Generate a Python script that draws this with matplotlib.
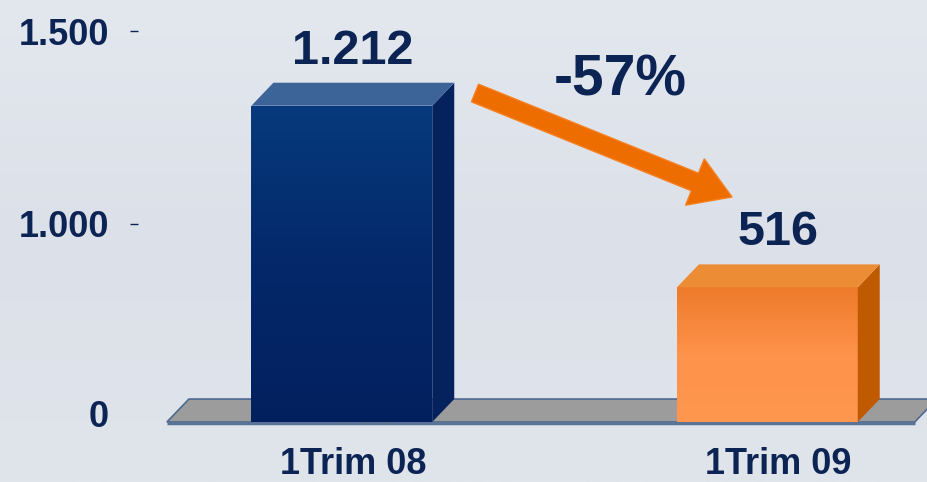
import numpy as np
import matplotlib
matplotlib.use("Agg")
import matplotlib.pyplot as plt
from matplotlib.patches import Polygon, FancyArrow
from matplotlib.colors import LinearSegmentedColormap

# datos
categorias = ["1Trim 08", "1Trim 09"]
valores = [1212, 516]
etiquetas = ["1.212", "516"]
variacion = "-57%"
ticks_y = [34, 759, 1498]
ticks_txt = ["0", "1.000", "1.500"]

plt.rcParams['font.family'] = ['Liberation Sans', 'DejaVu Sans']
plt.rcParams['font.weight'] = 'bold'

azul_txt = '#0b2454'

fig = plt.figure(figsize=(9.28, 4.82), dpi=100)

# fondo (coordenadas en pixeles)
fondo = fig.add_axes([0, 0, 1, 1])
fondo.set_xlim(0, 928)
fondo.set_ylim(482, 0)
fondo.axis('off')
grad = np.linspace(0, 1, 256).reshape(-1, 1)
cmap_fondo = LinearSegmentedColormap.from_list('fondo', ['#e3e7ee', '#dce1e9', '#e0e4eb'])
fondo.imshow(grad, cmap=cmap_fondo, extent=[0, 928, 482, 0], aspect='auto', zorder=0)

flecha = FancyArrow(475, 93, 257, 104, width=19, head_width=50, head_length=40,
                    length_includes_head=True, facecolor='#ee6d00', edgecolor='#f58020',
                    linewidth=1, zorder=3)
fondo.add_patch(flecha)
fondo.text(620, 81, variacion, ha='center', va='center', fontsize=41,
           fontweight='bold', color=azul_txt)
fondo.set_xlim(0, 928)
fondo.set_ylim(482, 0)

# grafico de barras
ax = fig.add_axes([138 / 928, 42 / 482, 1 - 138 / 928, 440 / 482])
ax.patch.set_alpha(0)
for s in ax.spines.values():
    s.set_visible(False)

x = np.arange(len(categorias))
ancho = 0.425
dx = 0.0517   # profundidad 3D
dy = 88

xmin, xmax = -0.479, 1.3776
ymin, ymax = -69, 1617

# piso
piso_x0, piso_x1 = -0.411, 1.3466
piso = Polygon([(piso_x0, 0), (piso_x1, 0), (piso_x1 + dx, dy), (piso_x0 + dx, dy)],
               closed=True, facecolor='#9c9c9c', edgecolor='#4f6a90', linewidth=1.2, zorder=1)
ax.add_patch(piso)
ax.plot([piso_x0, piso_x1], [-4, -4], color='#5a7396', linewidth=2.5, zorder=1,
        solid_capstyle='butt')

colores = ['#053276', '#f5843b']
grad_cols = [['#03205e', '#04286a', '#063a7c'],
             ['#ff974f', '#fe934b', '#ee7a2b']]
lados = ['#05225f', '#c05a00']
tapas = ['#3d6499', '#ec8c35']

barras = ax.bar(x, valores, width=ancho, color=colores, zorder=3)
g = np.linspace(0, 1, 256).reshape(-1, 1)
for i, b in enumerate(barras):
    xl = b.get_x()
    xr = xl + b.get_width()
    h = b.get_height()
    cm = LinearSegmentedColormap.from_list('b%d' % i, grad_cols[i])
    im = ax.imshow(g, cmap=cm, extent=[xl, xr, 0, h], origin='lower',
                   aspect='auto', zorder=3.5)
    im.set_clip_path(b)
    lado = Polygon([(xr, 0), (xr, h), (xr + dx, h + dy), (xr + dx, dy)],
                   closed=True, facecolor=lados[i], edgecolor='none', zorder=4)
    tapa = Polygon([(xl, h), (xr, h), (xr + dx, h + dy), (xl + dx, h + dy)],
                   closed=True, facecolor=tapas[i], edgecolor='none', zorder=4)
    ax.add_patch(lado)
    ax.add_patch(tapa)
    ax.text(x[i] + dx / 2, h + 161, etiquetas[i], ha='center', va='baseline',
            fontsize=35, fontweight='bold', color=azul_txt, zorder=5)

ax.set_xlim(xmin, xmax)
ax.set_ylim(ymin, ymax)

ax.set_xticks(x + dx / 2, categorias)
ax.tick_params(axis='x', length=0, pad=5, labelsize=26, labelcolor=azul_txt)
ax.set_yticks(ticks_y, ticks_txt)
ax.tick_params(axis='y', length=6, width=1, color=azul_txt, pad=15,
               labelsize=26, labelcolor=azul_txt)
ax.yaxis.get_major_ticks()[0].tick1line.set_visible(False)
for t in ax.get_xticklabels() + ax.get_yticklabels():
    t.set_fontweight('bold')

fig.savefig('out.png', dpi=100)
